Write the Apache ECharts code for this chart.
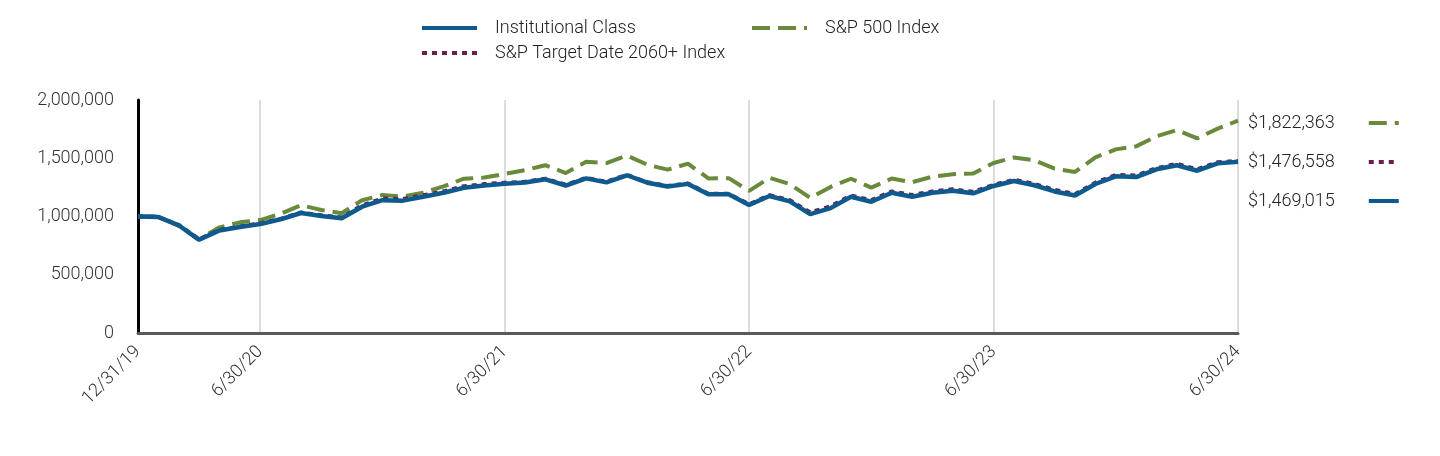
<!DOCTYPE html>
<html>
<head>
<meta charset="utf-8">
<script src="https://cdn.jsdelivr.net/npm/echarts@6/dist/echarts.min.js"></script>
<style>
html,body{margin:0;padding:0;background:#fff;}
#chart{width:1440px;height:456px;}
</style>
</head>
<body>
<div id="chart"></div>
<script>
const categories = [
 '12/31/19',
 '1/31/20','2/29/20','3/31/20','4/30/20','5/31/20','6/30/20','7/31/20','8/31/20','9/30/20','10/31/20','11/30/20','12/31/20',
 '1/31/21','2/28/21','3/31/21','4/30/21','5/31/21','6/30/21','7/31/21','8/31/21','9/30/21','10/31/21','11/30/21','12/31/21',
 '1/31/22','2/28/22','3/31/22','4/30/22','5/31/22','6/30/22','7/31/22','8/31/22','9/30/22','10/31/22','11/30/22','12/31/22',
 '1/31/23','2/28/23','3/31/23','4/30/23','5/31/23','6/30/23','7/31/23','8/31/23','9/30/23','10/31/23','11/30/23','12/31/23',
 '1/31/24','2/29/24','3/31/24','4/30/24','5/31/24','6/30/24'
];
const tickLabels = ['12/31/19','6/30/20','6/30/21','6/30/22','6/30/23','6/30/24'];
const gridDates = ['6/30/20','6/30/21','6/30/22','6/30/23','6/30/24'];

const institutionalClass = [
 1000000,
 995000, 925000, 800000, 880000, 910000, 935000, 976000, 1030000, 1005000, 985000, 1084000, 1140000,
 1136000, 1170000, 1204000, 1247000, 1266000, 1281000, 1292000, 1319000, 1266000, 1327000, 1293000, 1354000,
 1290000, 1257000, 1280000, 1190000, 1190000, 1099000, 1176000, 1130000, 1020000, 1072000, 1170000, 1127000,
 1204000, 1170000, 1204000, 1221000, 1199000, 1262000, 1305000, 1268000, 1215000, 1180000, 1279000, 1345000,
 1338000, 1405000, 1440000, 1393000, 1456000, 1469015
];
const targetDate2060 = [
 1000000,
 996000, 927000, 805000, 885000, 914000, 940000, 980000, 1035000, 1010000, 992000, 1095000, 1155000,
 1150000, 1182000, 1216000, 1260000, 1278000, 1290000, 1298000, 1325000, 1272000, 1332000, 1298000, 1358000,
 1294000, 1262000, 1284000, 1195000, 1195000, 1105000, 1183000, 1140000, 1035000, 1088000, 1180000, 1140000,
 1215000, 1185000, 1215000, 1233000, 1212000, 1272000, 1315000, 1280000, 1228000, 1192000, 1290000, 1357000,
 1352000, 1415000, 1452000, 1405000, 1466000, 1476558
];
const sp500 = [
 1000000,
 999600, 918000, 804000, 907000, 950000, 969000, 1024000, 1097000, 1056000, 1028000, 1140000, 1184000,
 1172000, 1205000, 1258000, 1325000, 1334000, 1365000, 1398000, 1440000, 1373000, 1469000, 1459000, 1524000,
 1445000, 1402000, 1454000, 1327000, 1329000, 1220000, 1332000, 1278000, 1160000, 1254000, 1324000, 1248000,
 1326000, 1294000, 1342000, 1363000, 1369000, 1459000, 1506000, 1482000, 1411000, 1382000, 1508000, 1576000,
 1602000, 1688000, 1742000, 1671000, 1754000, 1822363
];

const NAME_INST = 'Institutional Class';
const NAME_SP = 'S&P 500 Index';
const NAME_TD = 'S&P Target Date 2060+ Index';
const C_INST = '#0e5a8f';
const C_SP = '#6a8a3b';
const C_TD = '#6a1f4c';

const lastVals = {};
lastVals[NAME_INST] = institutionalClass[institutionalClass.length - 1];
lastVals[NAME_SP] = sp500[sp500.length - 1];
lastVals[NAME_TD] = targetDate2060[targetDate2060.length - 1];

const font = 'Roboto, "Liberation Sans", sans-serif';
const chart = echarts.init(document.getElementById('chart'));

const legendCommon = {
  selectedMode: false,
  itemStyle: {opacity: 0, borderWidth: 0},
  lineStyle: {width: 4}
};

chart.setOption({
  animation: false,
  backgroundColor: '#fff',
  grid: {left: 138, right: 202, top: 100, bottom: 123, containLabel: false},
  legend: [
    Object.assign({
      data: [NAME_INST, NAME_TD], orient: 'vertical', left: 415, top: 14,
      itemWidth: 55, itemHeight: 14, itemGap: 7,
      textStyle: {fontSize: 18, fontWeight: 300, color: '#222', fontFamily: font, padding: [0,0,0,13]}
    }, legendCommon),
    Object.assign({
      data: [NAME_SP], orient: 'vertical', left: 745, top: 14,
      itemWidth: 55, itemHeight: 14, itemGap: 7,
      textStyle: {fontSize: 18, fontWeight: 300, color: '#222', fontFamily: font, padding: [0,0,0,13]}
    }, legendCommon),
    Object.assign({
      data: [NAME_SP, NAME_TD, NAME_INST], orient: 'vertical', left: 1243, top: 109,
      align: 'right', itemWidth: 30, itemHeight: 14, itemGap: 21,
      formatter: function (name) { return '$' + lastVals[name].toLocaleString('en-US'); },
      textStyle: {fontSize: 18, fontWeight: 300, color: '#222', fontFamily: font, padding: [0, 29, 0, 0]}
    }, legendCommon)
  ],
  xAxis: {
    type: 'category',
    data: categories,
    boundaryGap: false,
    axisLine: {show: true, lineStyle: {color: '#595959', width: 3}},
    axisTick: {show: false},
    splitLine: {
      show: true,
      interval: function (idx, val) { return gridDates.indexOf(categories[idx]) >= 0; },
      lineStyle: {color: '#dcdcdc', width: 2}
    },
    axisLabel: {
      interval: function (idx, val) { return tickLabels.indexOf(val) >= 0; },
      rotate: 45, margin: 16, fontSize: 18, fontWeight: 300, color: '#333', fontFamily: font
    }
  },
  yAxis: {
    type: 'value', min: 0, max: 2000000, interval: 500000,
    axisLine: {show: true, lineStyle: {color: '#000', width: 3}},
    axisTick: {show: false},
    splitLine: {show: false},
    axisLabel: {
      margin: 24, fontSize: 18, fontWeight: 300, color: '#333', fontFamily: font,
      formatter: function (v) { return v.toLocaleString('en-US'); }
    }
  },
  series: [
    {
      name: NAME_SP, type: 'line', data: sp500, symbol: 'none', z: 1,
      color: C_SP,
      lineStyle: {color: C_SP, width: 4, type: [18, 8]}
    },
    {
      name: NAME_TD, type: 'line', data: targetDate2060, symbol: 'none', z: 2,
      color: C_TD,
      lineStyle: {color: C_TD, width: 4, type: [5, 5]}
    },
    {
      name: NAME_INST, type: 'line', data: institutionalClass, symbol: 'none', z: 3,
      color: C_INST,
      lineStyle: {color: C_INST, width: 4.5}
    }
  ]
});
</script>
</body>
</html>
